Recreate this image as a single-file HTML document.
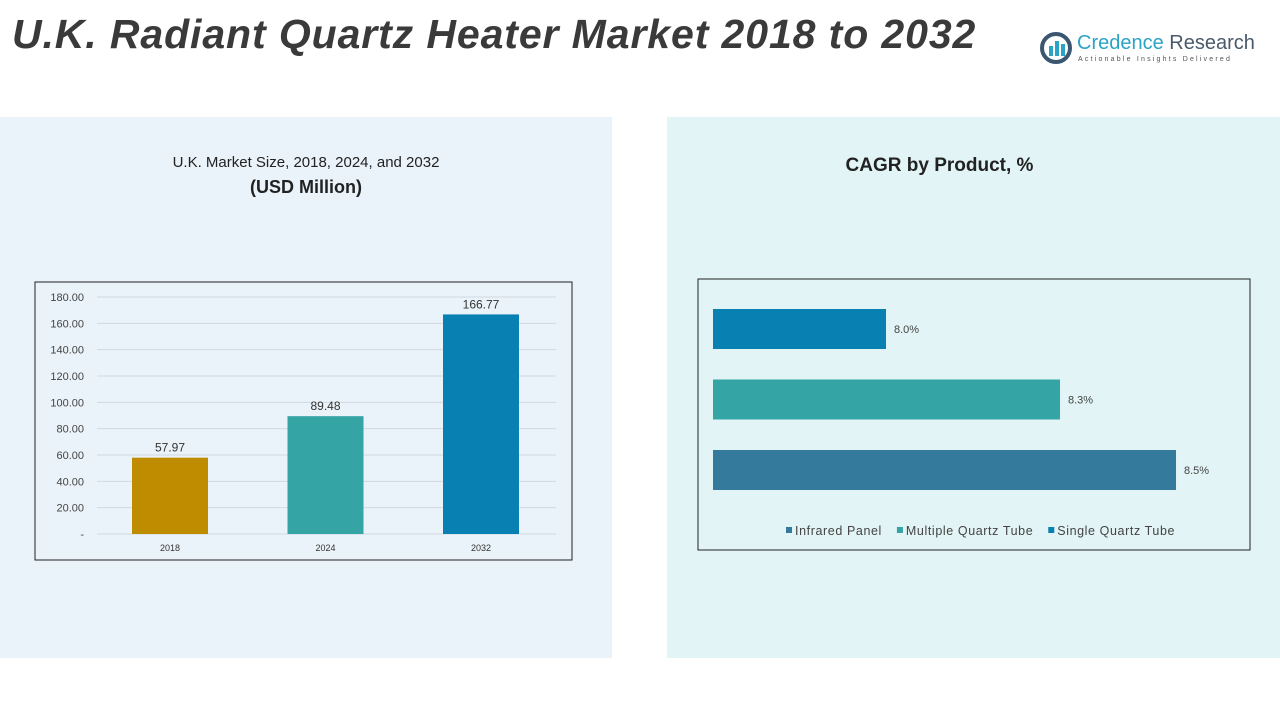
<!DOCTYPE html>
<html><head><meta charset="utf-8"><style>
body{margin:0;width:1280px;height:720px;background:#fff;position:relative;overflow:hidden;font-family:"Liberation Sans",sans-serif}
.abs{position:absolute}
</style></head><body>
<div class="abs" style="left:12px;top:11px;font-size:41px;font-weight:bold;font-style:italic;color:#3a3a3a;letter-spacing:0.9px;white-space:nowrap">U.K. Radiant Quartz Heater Market 2018 to 2032</div>
<div class="abs" style="left:1040px;top:30px;width:230px;height:40px">
<svg width="34" height="34" style="position:absolute;left:0;top:2px"><circle cx="16" cy="16" r="14" fill="none" stroke="#3a5670" stroke-width="4"/><rect x="9" y="14" width="4" height="10" fill="#2ba3c4"/><rect x="15" y="9" width="4" height="15" fill="#2ba3c4"/><rect x="21" y="12" width="4" height="12" fill="#2ba3c4"/></svg>
<div class="abs" style="left:37px;top:2px;font-size:20px;color:#2ba3c4;white-space:nowrap">Credence <span style="color:#4a5a6a">Research</span></div>
<div class="abs" style="left:38px;top:26px;font-size:7px;letter-spacing:2.2px;color:#555;white-space:nowrap">Actionable Insights Delivered</div>
</div>
<div class="abs" style="left:0;top:117px;width:612px;height:541px;background:#eaf3f9"></div>
<div class="abs" style="left:667px;top:117px;width:613px;height:541px;background:#e2f4f5"></div>
<div class="abs" style="left:0;top:154px;width:612px;text-align:center;font-size:15px;color:#222">U.K. Market Size, 2018, 2024, and 2032</div>
<div class="abs" style="left:0;top:177px;width:612px;text-align:center;font-size:18px;font-weight:bold;color:#222">(USD Million)</div>
<div class="abs" style="left:667px;top:155px;width:545px;text-align:center;font-size:19px;font-weight:bold;color:#222">CAGR by Product, %</div>
<svg class="abs" style="left:0;top:0" width="1280" height="720" id="svg"></svg>
<script>
const years=["2018","2024","2032"];
const marketValues=[57.97,89.48,166.77];
const yTicks=[0,20,40,60,80,100,120,140,160,180];
const barColors=["#bf8c00","#34a4a4","#0880b2"];
const products=["Single Quartz Tube","Multiple Quartz Tube","Infrared Panel"];
const cagr=[8.0,8.3,8.5];
const prodColors=["#0880b2","#34a4a4","#337a9c"];
const legendOrder=["Infrared Panel","Multiple Quartz Tube","Single Quartz Tube"];
const legendColors=["#337a9c","#34a4a4","#0880b2"];
const NS="http://www.w3.org/2000/svg",svg=document.getElementById('svg');
function el(t,a,txt){const e=document.createElementNS(NS,t);for(const k in a)e.setAttribute(k,a[k]);if(txt!==undefined)e.textContent=txt;svg.appendChild(e);return e;}
let b=el('rect',{x:35,y:282,width:537,height:278,fill:'none',stroke:'#222','stroke-width':1});

const y0=534,y1=297,yMax=180;
const ys=v=>y0-(v/yMax)*(y0-y1);
yTicks.forEach(t=>{
 const g=el('line',{x1:97,x2:556,y1:ys(t),y2:ys(t),stroke:'#d0d8de','stroke-width':1});
 
 const l=el('text',{x:84,y:ys(t)+4,'text-anchor':'end','font-size':11,fill:'#444'},t===0?'-':t.toFixed(2));
 
});
const bx=i=>132+i*155.5, bw=76;
years.forEach((yr,i)=>{
 const r=el('rect',{x:bx(i),y:ys(marketValues[i]),width:bw,height:y0-ys(marketValues[i]),fill:barColors[i]});
 
 const v=el('text',{x:bx(i)+bw/2,y:ys(marketValues[i])-6,'text-anchor':'middle','font-size':12,fill:'#333'},marketValues[i].toFixed(2));
 
 const x=el('text',{x:bx(i)+bw/2,y:551,'text-anchor':'middle','font-size':9,fill:'#333'},yr);
 
});
let f=el('rect',{x:698,y:279,width:552,height:271,fill:'none',stroke:'#222','stroke-width':1});

const xs=v=>713+(v-7.7017)*580;
products.forEach((p,i)=>{
 const y=309+i*70.5;
 const r=el('rect',{x:713,y:y,width:xs(cagr[i])-713,height:40,fill:prodColors[i]});
 
 const t=el('text',{x:xs(cagr[i])+8,y:y+24,'font-size':11,fill:'#444'},cagr[i].toFixed(1)+'%');
 
});
let lx=786;
legendOrder.forEach((n,i)=>{
 const s=el('rect',{x:lx,y:527,width:6,height:6,fill:legendColors[i]});
 
 const t=el('text',{x:lx+9,y:535,'font-size':12.5,'letter-spacing':0.6,fill:'#444'},n);
 
 lx+=t.getComputedTextLength()+24;
});
</script>
</body></html>
